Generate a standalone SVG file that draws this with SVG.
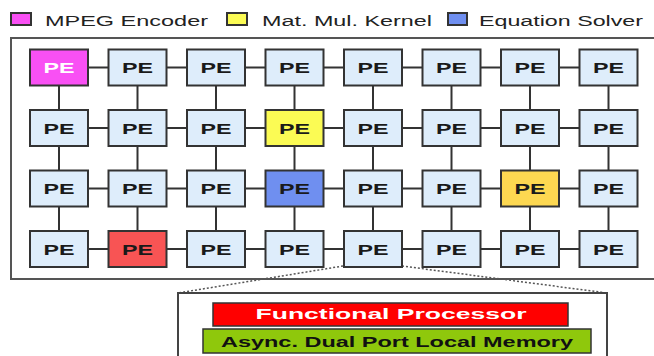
<svg xmlns="http://www.w3.org/2000/svg" width="654" height="356" viewBox="0 0 654 356">
<style>
.pe rect{stroke:#333;stroke-width:2}
.pe text{font-family:"Liberation Sans",Arial,sans-serif;font-weight:bold;font-size:15px;fill:#1a1a1a;text-anchor:middle}
.n{fill:#deedfb}
.lg{font-family:"Liberation Sans",Arial,sans-serif;font-size:15.5px;fill:#222}
.c line{stroke:#333;stroke-width:2}
</style>
<rect width="654" height="356" fill="#fff"/>
<g id="legend">
<rect x="11" y="13" width="20" height="12" fill="#f950f4" stroke="#333" stroke-width="2"/>
<text class="lg" x="45" y="25.5" textLength="163" lengthAdjust="spacingAndGlyphs">MPEG Encoder</text>
<rect x="227" y="13" width="20" height="12" fill="#fbfb54" stroke="#333" stroke-width="2"/>
<text class="lg" x="262" y="25.5" textLength="170" lengthAdjust="spacingAndGlyphs">Mat. Mul. Kernel</text>
<rect x="448" y="13" width="19" height="12" fill="#6f8ff0" stroke="#333" stroke-width="2"/>
<text class="lg" x="479" y="25.5" textLength="164" lengthAdjust="spacingAndGlyphs">Equation Solver</text>
</g>
<rect id="array" x="11" y="38" width="660" height="241" fill="none" stroke="#555" stroke-width="2"/>
<g class="c" id="connectors">
<line x1="88" y1="67.5" x2="579" y2="67.5"/>
<line x1="88" y1="128" x2="579" y2="128"/>
<line x1="88" y1="188.5" x2="579" y2="188.5"/>
<line x1="88" y1="249" x2="579" y2="249"/>
<line x1="59" y1="85" x2="59" y2="231"/>
<line x1="137.5" y1="85" x2="137.5" y2="231"/>
<line x1="216" y1="85" x2="216" y2="231"/>
<line x1="294.5" y1="85" x2="294.5" y2="231"/>
<line x1="373" y1="85" x2="373" y2="231"/>
<line x1="451.5" y1="85" x2="451.5" y2="231"/>
<line x1="530" y1="85" x2="530" y2="231"/>
<line x1="608.5" y1="85" x2="608.5" y2="231"/>
<line x1="343" y1="266" x2="178" y2="293" stroke-dasharray="2 2" style="stroke:#555;stroke-width:1.5"/>
<line x1="402" y1="266" x2="607" y2="293" stroke-dasharray="2 2" style="stroke:#555;stroke-width:1.5"/>
</g>
<g class="pe">
<g id="pe-0-0"><rect x="30" y="49.5" width="58" height="36" fill="#f950f4"/><text x="59" y="73" textLength="31" lengthAdjust="spacingAndGlyphs" style="fill:#fff">PE</text></g>
<g id="pe-0-1"><rect class="n" x="108.5" y="49.5" width="58" height="36"/><text x="137.5" y="73" textLength="31" lengthAdjust="spacingAndGlyphs">PE</text></g>
<g id="pe-0-2"><rect class="n" x="187" y="49.5" width="58" height="36"/><text x="216" y="73" textLength="31" lengthAdjust="spacingAndGlyphs">PE</text></g>
<g id="pe-0-3"><rect class="n" x="265.5" y="49.5" width="58" height="36"/><text x="294.5" y="73" textLength="31" lengthAdjust="spacingAndGlyphs">PE</text></g>
<g id="pe-0-4"><rect class="n" x="344" y="49.5" width="58" height="36"/><text x="373" y="73" textLength="31" lengthAdjust="spacingAndGlyphs">PE</text></g>
<g id="pe-0-5"><rect class="n" x="422.5" y="49.5" width="58" height="36"/><text x="451.5" y="73" textLength="31" lengthAdjust="spacingAndGlyphs">PE</text></g>
<g id="pe-0-6"><rect class="n" x="501" y="49.5" width="58" height="36"/><text x="530" y="73" textLength="31" lengthAdjust="spacingAndGlyphs">PE</text></g>
<g id="pe-0-7"><rect class="n" x="579.5" y="49.5" width="58" height="36"/><text x="608.5" y="73" textLength="31" lengthAdjust="spacingAndGlyphs">PE</text></g>

<g id="pe-1-0"><rect class="n" x="30" y="110" width="58" height="36"/><text x="59" y="133.5" textLength="31" lengthAdjust="spacingAndGlyphs">PE</text></g>
<g id="pe-1-1"><rect class="n" x="108.5" y="110" width="58" height="36"/><text x="137.5" y="133.5" textLength="31" lengthAdjust="spacingAndGlyphs">PE</text></g>
<g id="pe-1-2"><rect class="n" x="187" y="110" width="58" height="36"/><text x="216" y="133.5" textLength="31" lengthAdjust="spacingAndGlyphs">PE</text></g>
<g id="pe-1-3"><rect x="265.5" y="110" width="58" height="36" fill="#fbfb54"/><text x="294.5" y="133.5" textLength="31" lengthAdjust="spacingAndGlyphs">PE</text></g>
<g id="pe-1-4"><rect class="n" x="344" y="110" width="58" height="36"/><text x="373" y="133.5" textLength="31" lengthAdjust="spacingAndGlyphs">PE</text></g>
<g id="pe-1-5"><rect class="n" x="422.5" y="110" width="58" height="36"/><text x="451.5" y="133.5" textLength="31" lengthAdjust="spacingAndGlyphs">PE</text></g>
<g id="pe-1-6"><rect class="n" x="501" y="110" width="58" height="36"/><text x="530" y="133.5" textLength="31" lengthAdjust="spacingAndGlyphs">PE</text></g>
<g id="pe-1-7"><rect class="n" x="579.5" y="110" width="58" height="36"/><text x="608.5" y="133.5" textLength="31" lengthAdjust="spacingAndGlyphs">PE</text></g>

<g id="pe-2-0"><rect class="n" x="30" y="170.5" width="58" height="36"/><text x="59" y="194" textLength="31" lengthAdjust="spacingAndGlyphs">PE</text></g>
<g id="pe-2-1"><rect class="n" x="108.5" y="170.5" width="58" height="36"/><text x="137.5" y="194" textLength="31" lengthAdjust="spacingAndGlyphs">PE</text></g>
<g id="pe-2-2"><rect class="n" x="187" y="170.5" width="58" height="36"/><text x="216" y="194" textLength="31" lengthAdjust="spacingAndGlyphs">PE</text></g>
<g id="pe-2-3"><rect x="265.5" y="170.5" width="58" height="36" fill="#6f8ff0"/><text x="294.5" y="194" textLength="31" lengthAdjust="spacingAndGlyphs">PE</text></g>
<g id="pe-2-4"><rect class="n" x="344" y="170.5" width="58" height="36"/><text x="373" y="194" textLength="31" lengthAdjust="spacingAndGlyphs">PE</text></g>
<g id="pe-2-5"><rect class="n" x="422.5" y="170.5" width="58" height="36"/><text x="451.5" y="194" textLength="31" lengthAdjust="spacingAndGlyphs">PE</text></g>
<g id="pe-2-6"><rect x="501" y="170.5" width="58" height="36" fill="#fdd851"/><text x="530" y="194" textLength="31" lengthAdjust="spacingAndGlyphs">PE</text></g>
<g id="pe-2-7"><rect class="n" x="579.5" y="170.5" width="58" height="36"/><text x="608.5" y="194" textLength="31" lengthAdjust="spacingAndGlyphs">PE</text></g>

<g id="pe-3-0"><rect class="n" x="30" y="231" width="58" height="36"/><text x="59" y="254.5" textLength="31" lengthAdjust="spacingAndGlyphs">PE</text></g>
<g id="pe-3-1"><rect x="108.5" y="231" width="58" height="36" fill="#f85454"/><text x="137.5" y="254.5" textLength="31" lengthAdjust="spacingAndGlyphs">PE</text></g>
<g id="pe-3-2"><rect class="n" x="187" y="231" width="58" height="36"/><text x="216" y="254.5" textLength="31" lengthAdjust="spacingAndGlyphs">PE</text></g>
<g id="pe-3-3"><rect class="n" x="265.5" y="231" width="58" height="36"/><text x="294.5" y="254.5" textLength="31" lengthAdjust="spacingAndGlyphs">PE</text></g>
<g id="pe-3-4"><rect class="n" x="344" y="231" width="58" height="36"/><text x="373" y="254.5" textLength="31" lengthAdjust="spacingAndGlyphs">PE</text></g>
<g id="pe-3-5"><rect class="n" x="422.5" y="231" width="58" height="36"/><text x="451.5" y="254.5" textLength="31" lengthAdjust="spacingAndGlyphs">PE</text></g>
<g id="pe-3-6"><rect class="n" x="501" y="231" width="58" height="36"/><text x="530" y="254.5" textLength="31" lengthAdjust="spacingAndGlyphs">PE</text></g>
<g id="pe-3-7"><rect class="n" x="579.5" y="231" width="58" height="36"/><text x="608.5" y="254.5" textLength="31" lengthAdjust="spacingAndGlyphs">PE</text></g>
</g>
<g id="detail">
<rect x="178" y="293" width="429" height="80" fill="#fff" stroke="#444" stroke-width="2"/>
<rect x="213" y="303" width="355" height="23" fill="#ff0000" stroke="#333" stroke-width="1.5"/>
<text x="391" y="319" text-anchor="middle" textLength="271" lengthAdjust="spacingAndGlyphs" style="font-family:'Liberation Sans',Arial,sans-serif;font-weight:bold;font-size:15px;fill:#fff">Functional Processor</text>
<rect x="203" y="329" width="388" height="24" fill="#8fc80c" stroke="#333" stroke-width="1.5"/>
<text x="397" y="346.5" text-anchor="middle" textLength="352" lengthAdjust="spacingAndGlyphs" style="font-family:'Liberation Sans',Arial,sans-serif;font-weight:bold;font-size:15px;fill:#111">Async. Dual Port Local Memory</text>
</g>
</svg>
